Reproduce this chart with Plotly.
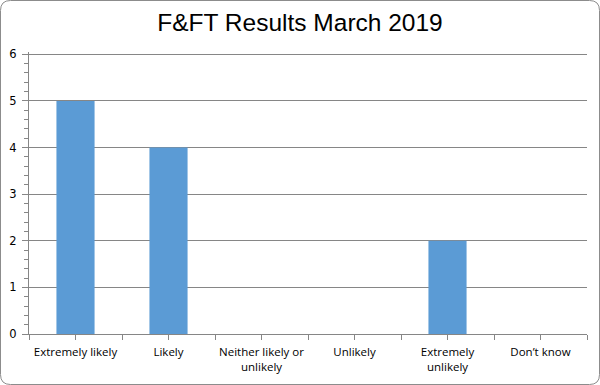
import plotly.graph_objects as go

categories = ["Extremely likely", "Likely", "Neither likely or<br>unlikely", "Unlikely",
              "Extremely<br>unlikely", "Don\u2019t know"]
values = [5, 4, 0, 0, 2, 0]
y_ticks = [0, 1, 2, 3, 4, 5, 6]

W, H = 600, 385
L, R, T, B = 29, 13, 52, 51
pw, ph = W - L - R, H - T - B

def px(x):
    return (x - L) / pw

def py(y):
    return (H - B - y) / ph

positions = list(range(len(categories)))

fig = go.Figure(go.Bar(x=positions, y=values, marker_color="#5B9BD5",
                       marker_line_width=0, width=0.41))

# rounded border around chart area
x0, x1, y0, y1, r = 0.5, 599.5, 0.5, 384.5, 10
path = (f"M {px(x0 + r)},{py(y0)} L {px(x1 - r)},{py(y0)} "
        f"Q {px(x1)},{py(y0)} {px(x1)},{py(y0 + r)} L {px(x1)},{py(y1 - r)} "
        f"Q {px(x1)},{py(y1)} {px(x1 - r)},{py(y1)} L {px(x0 + r)},{py(y1)} "
        f"Q {px(x0)},{py(y1)} {px(x0)},{py(y1 - r)} L {px(x0)},{py(y0 + r)} "
        f"Q {px(x0)},{py(y0)} {px(x0 + r)},{py(y0)} Z")
fig.add_shape(type="path", path=path, xref="paper", yref="paper",
              line=dict(color="#8c8c8c", width=1), layer="below")

fig.update_layout(
    width=W, height=H,
    margin=dict(l=L, r=R, t=T, b=B),
    paper_bgcolor="white", plot_bgcolor="white",
    showlegend=False,
    title=dict(text="F&FT Results March 2019", x=0.5, xref="container", xanchor="center",
               y=1 - 22 / H, yanchor="middle",
               font=dict(family="Liberation Sans, Arial", size=24.5, color="#000")),
    font=dict(family="Open Sans, DejaVu Sans", size=11, color="#000"),
    xaxis=dict(range=[-0.5, len(categories) - 0.5], tickmode="array",
               tickvals=positions, ticktext=categories, automargin=False,
               ticks="outside", ticklen=5, tickcolor="#868686", ticklabelstandoff=2,
               showline=True, linecolor="#868686", showgrid=False, zeroline=False,
               tickfont=dict(family="Open Sans, DejaVu Sans", size=11.5),
               minor=dict(tickvals=[p - 0.5 for p in positions] + [len(categories) - 0.5],
                          ticks="outside", ticklen=5, tickcolor="#868686", showgrid=False),
               fixedrange=True),
    yaxis=dict(range=[0, y_ticks[-1] + 0.05], tickmode="array", tickvals=y_ticks,
               automargin=False,
               ticks="outside", ticklen=6, tickcolor="#868686", ticklabelstandoff=3,
               showline=True, linecolor="#868686",
               showgrid=True, gridcolor="#868686", gridwidth=1, zeroline=False,
               tickfont=dict(family="DejaVu Sans, Verdana", size=11.5),
               minor=dict(dtick=0.2, ticks="outside", ticklen=4, tickcolor="#868686",
                          showgrid=False),
               fixedrange=True),
)

fig.write_html("out.html", config={"displayModeBar": False},
               post_script="document.body.style.margin='0';document.body.style.overflow='hidden';")
